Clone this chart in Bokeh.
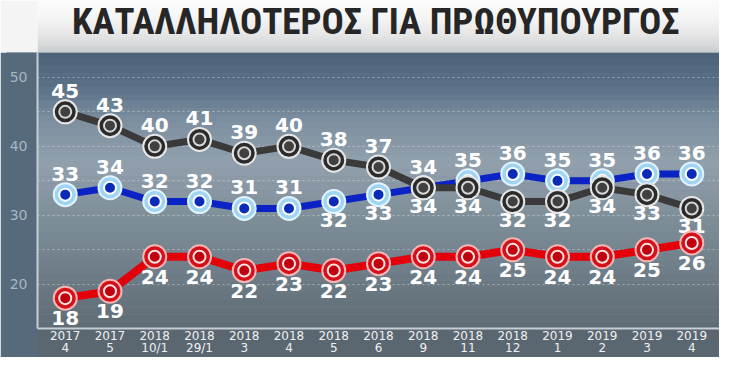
from bokeh.plotting import figure
from bokeh.models import ColumnDataSource, FixedTicker, Label, BoxAnnotation, Range1d, LinearAxis
from bokeh.layouts import column
from bokeh.embed import file_html
from bokeh.resources import INLINE
from bokeh.core.properties import value

# ---- data ----
period_years = ["2017", "2017", "2018", "2018", "2018", "2018", "2018", "2018",
                "2018", "2018", "2018", "2019", "2019", "2019", "2019"]
period_months = ["4", "5", "10/1", "29/1", "3", "4", "5", "6", "9", "11", "12",
                 "1", "2", "3", "4"]
grey_vals = [45, 43, 40, 41, 39, 40, 38, 37, 34, 34, 32, 32, 34, 33, 31]
blue_vals = [33, 34, 32, 32, 31, 31, 32, 33, 34, 35, 36, 35, 35, 36, 36]
red_vals = [18, 19, 24, 24, 22, 23, 22, 23, 24, 24, 25, 24, 24, 25, 26]
y_ticks = [20, 30, 40, 50]
title_text = "ΚΑΤΑΛΛΗΛΟΤΕΡΟΣ ΓΙΑ ΠΡΩΘΥΠΟΥΡΓΟΣ"

# label placement (style): True = above the point
grey_above = [True] * 9 + [False] * 6
blue_above = [True, True, True, True, True, True, False, False, False, True, True, True, True, True, True]
red_above = [False] * 15

W = 719
NUM_FONT = "DejaVu Sans"
NARROW = "'Roboto Condensed', 'Liberation Sans Narrow', Roboto, sans-serif"


def lerp_color(c1, c2, t):
    a = [int(c1[i:i + 2], 16) for i in (1, 3, 5)]
    b = [int(c2[i:i + 2], 16) for i in (1, 3, 5)]
    return "#" + "".join("%02x" % int(round(a[k] + (b[k] - a[k]) * t)) for k in range(3))


def add_gradient(fig, lo, hi, stops, n=40):
    for i in range(n):
        f0 = i / n
        f1 = (i + 1) / n
        fm = (f0 + f1) / 2
        col = stops[-1][1]
        for j in range(len(stops) - 1):
            if stops[j][0] <= fm <= stops[j + 1][0]:
                tt = (fm - stops[j][0]) / (stops[j + 1][0] - stops[j][0])
                col = lerp_color(stops[j][1], stops[j + 1][1], tt)
                break
        fig.add_layout(BoxAnnotation(bottom=lo + (hi - lo) * f0, top=lo + (hi - lo) * f1 + 0.01,
                                     fill_color=col, fill_alpha=1.0, line_alpha=0, level="image"))


# ---- title band ----
t = figure(width=W, height=52, x_range=Range1d(0, 1), y_range=Range1d(0, 1),
           x_axis_type=None, y_axis_type=None, output_backend="svg",
           toolbar_location=None, min_border=0)
t.outline_line_color = None
t.grid.visible = False
t.background_fill_color = "#f4f4f4"
t.border_fill_color = "#f4f4f4"
add_gradient(t, 0.0, 1.0, [(0.0, "#c9cdd0"), (0.06, "#cfd2d4"), (0.35, "#e6e6e6"),
                           (0.7, "#f6f6f6"), (1.0, "#fbfbfb")], n=20)
t.add_layout(Label(x=0.496, y=0.6, x_units="data", y_units="data", text=title_text,
                   text_align="center", text_baseline="middle", text_font=NARROW,
                   text_font_style="bold", text_font_size="37px", text_color="#262626"))

# ---- main chart ----
ylo, yhi = 13.6, 53.6
p = figure(width=W, height=305, x_range=Range1d(-0.62, 14.62), y_range=Range1d(ylo, yhi),
           output_backend="svg", toolbar_location=None,
           min_border_left=37, min_border_right=0, min_border_top=0, min_border_bottom=0)
p.outline_line_color = None
p.background_fill_color = "#788a98"
p.border_fill_color = "#566a7c"
add_gradient(p, ylo, yhi, [(0.0, "#5f6c76"), (0.15, "#6a7882"), (0.35, "#7a8a95"),
                           (0.6, "#91a0ac"), (0.75, "#7d90a0"), (0.88, "#5a7086"), (1.0, "#4a6177")])

p.xgrid.visible = False
p.ygrid.ticker = FixedTicker(ticks=[20, 25, 30, 35, 40, 45, 50])
p.ygrid.grid_line_color = "#dfe6ec"
p.ygrid.grid_line_alpha = 0.45
p.ygrid.grid_line_dash = "2 3"
p.ygrid.grid_line_width = 1
p.ygrid.level = "underlay"

xs = list(range(len(period_years)))

# year axis (closest to the plot)
xa = p.xaxis[0]
xa.ticker = FixedTicker(ticks=xs)
xa.major_label_overrides = {i: lab for i, lab in zip(xs, period_years)}
xa.axis_line_color = "#c5ced6"
xa.axis_line_width = 2
xa.major_label_standoff = 2

# month axis
ma = LinearAxis(ticker=FixedTicker(ticks=xs),
                major_label_overrides={i: lab for i, lab in zip(xs, period_months)})
ma.axis_line_color = None
ma.major_label_standoff = -2
p.add_layout(ma, "below")

for ax in (xa, ma):
    ax.major_label_text_font = NUM_FONT
    ax.major_label_text_font_size = "12px"
    ax.major_label_text_color = "#eef1f3"
    ax.major_tick_line_color = None
    ax.minor_tick_line_color = None
    ax.major_tick_out = 0
    ax.major_tick_in = 0
    ax.minor_tick_out = 0
    ax.minor_tick_in = 0
    ax.axis_label_standoff = 0
    try:
        ax.background_fill_color = "#5a6670"
    except Exception:
        pass

ya = p.yaxis[0]
ya.ticker = FixedTicker(ticks=y_ticks)
ya.major_label_text_font = NUM_FONT
ya.major_label_text_font_size = "14px"
ya.major_label_text_color = "#a9b6c1"
ya.major_label_standoff = 10
ya.major_tick_line_color = None
ya.minor_tick_line_color = None
ya.major_tick_out = 0
ya.minor_tick_out = 0
ya.axis_label_standoff = 0
ya.axis_line_color = "#c5ced6"
ya.axis_line_width = 2
try:
    ya.background_fill_color = "#566a7c"
except Exception:
    pass

series = [
    # vals, above, below-offset, line color, width, outer fill, outer line, inner fill, inner line
    (blue_vals, blue_above, 18, "#0b22c4", 7, "#9fd4f3", "#dff3ff", "#0a2bb8", "#ffffff"),
    (grey_vals, grey_above, 18, "#3a3a3a", 7, "#2b2b2b", "#e6e6e6", "#404040", "#d8d8d8"),
    (red_vals, red_above, 20, "#e3000b", 8, "#d41018", "#f3b5b5", "#c0000e", "#ffe4e4"),
]

for vals, above, boff, lc, lw, *_ in series:
    p.line(xs, vals, line_color=lc, line_width=lw, line_join="round")

for vals, above, boff, lc, lw, of, ol, inf, inl in series:
    src = ColumnDataSource(dict(x=xs, y=vals, lbl=[str(v) for v in vals],
                                yoff=[-21 if a else boff for a in above]))
    p.scatter("x", "y", source=src, size=23, fill_color=of, line_color=ol, line_width=2)
    p.scatter("x", "y", source=src, size=12, fill_color=inf, line_color=inl, line_width=2)
    p.text("x", "y", text="lbl", source=src, y_offset="yoff", text_align="center",
           text_baseline="middle", text_font=value(NUM_FONT), text_font_style="bold",
           text_font_size="20px", text_color="#ffffff")

layout = column(t, p, spacing=0)
open("out.html", "w").write(file_html(layout, INLINE))
